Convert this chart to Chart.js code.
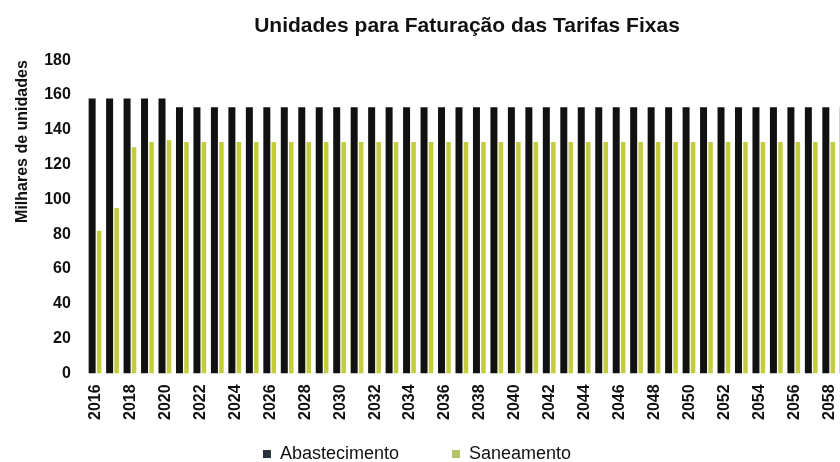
<!DOCTYPE html>
<html>
<head>
<meta charset="utf-8">
<script src="https://cdn.jsdelivr.net/npm/chart.js@4/dist/chart.umd.min.js"></script>
<style>
  body { margin: 0; overflow: hidden; background: #fff; }
  #wrap { width: 869px; height: 462px; }
</style>
</head>
<body>
<div id="wrap"><canvas id="tarifasChart"></canvas></div>
<script>
// anos (o gráfico original está cortado à direita, em 2059)
var anos = [];
for (var a = 2016; a <= 2059; a++) anos.push(String(a));

// milhares de unidades
var abastecimento = [158, 158, 158, 158, 158,
    153, 153, 153, 153, 153, 153, 153, 153, 153, 153,
    153, 153, 153, 153, 153, 153, 153, 153, 153, 153,
    153, 153, 153, 153, 153, 153, 153, 153, 153, 153,
    153, 153, 153, 153, 153, 153, 153, 153, 153];
var saneamento = [82, 95, 130, 133, 134,
    133, 133, 133, 133, 133, 133, 133, 133, 133, 133,
    133, 133, 133, 133, 133, 133, 133, 133, 133, 133,
    133, 133, 133, 133, 133, 133, 133, 133, 133, 133,
    133, 133, 133, 133, 133, 133, 133, 133, 133];

var fonte = 'Liberation Sans, Arial, sans-serif';
Chart.defaults.font.family = fonte;
Chart.defaults.color = '#111';

// pequenos acertos de posição do título e da legenda
var CORTE_LEGENDA = 42;   // altura retirada à caixa da legenda
var SOBE_LEGENDA = 31;    // legenda desenhada mais acima
var ajustes = {
    id: 'ajustes',
    beforeLayout: function(chart) {
        var lg = chart.legend;
        if (lg && !lg._ajustado) {
            lg._ajustado = true;
            var fit0 = lg.fit;
            lg.fit = function() {
                fit0.call(this);
                this.height -= CORTE_LEGENDA;
            };
        }
    },
    afterLayout: function(chart) {
        chart.titleBlock.left += 28;
        chart.titleBlock.right += 28;
        chart.legend.top -= SOBE_LEGENDA;
        chart.legend.left -= 22;
        chart.legend.right -= 22;
    }
};

var ctx = document.getElementById('tarifasChart').getContext('2d');
var tarifasChart = new Chart(ctx, {
    type: 'bar',
    data: {
        labels: anos,
        datasets: [{
            label: 'Abastecimento',
            data: abastecimento,
            backgroundColor: '#111111',
            barPercentage: 1.0,
            categoryPercentage: 0.8
        }, {
            label: 'Saneamento',
            data: saneamento,
            backgroundColor: '#c3cc3f',
            barPercentage: 0.65,
            categoryPercentage: 0.8
        }]
    },
    plugins: [ajustes],
    options: {
        responsive: true,
        maintainAspectRatio: false,
        animation: false,
        layout: { padding: { left: 9, right: 0, top: 0, bottom: 0 } },
        plugins: {
            title: {
                display: true,
                text: 'Unidades para Faturação das Tarifas Fixas',
                font: { size: 21, weight: 'bold' },
                padding: { top: 14, bottom: 21 }
            },
            legend: {
                position: 'bottom',
                labels: {
                    boxWidth: 8,
                    boxHeight: 8,
                    padding: 53,
                    font: { size: 18 },
                    generateLabels: function(chart) {
                        var itens = Chart.defaults.plugins.legend.labels.generateLabels(chart);
                        itens[0].fillStyle = '#29323c';
                        itens[1].fillStyle = '#b8c46a';
                        return itens;
                    }
                }
            },
            tooltip: { enabled: false }
        },
        scales: {
            x: {
                grid: { display: false },
                border: { display: false },
                ticks: {
                    autoSkip: false,
                    maxRotation: 90,
                    minRotation: 90,
                    font: { size: 16, weight: 'bold' },
                    callback: function(val, i) {
                        return i % 2 === 0 ? anos[i] : '';
                    }
                }
            },
            y: {
                min: 0,
                max: 180,
                grid: { display: false },
                border: { display: false },
                ticks: {
                    stepSize: 20,
                    padding: 8,
                    font: { size: 16, weight: 'bold' }
                },
                title: {
                    display: true,
                    align: 'end',
                    text: 'Milhares de unidades',
                    font: { size: 16, weight: 'bold' }
                }
            }
        }
    }
});
</script>
</body>
</html>
